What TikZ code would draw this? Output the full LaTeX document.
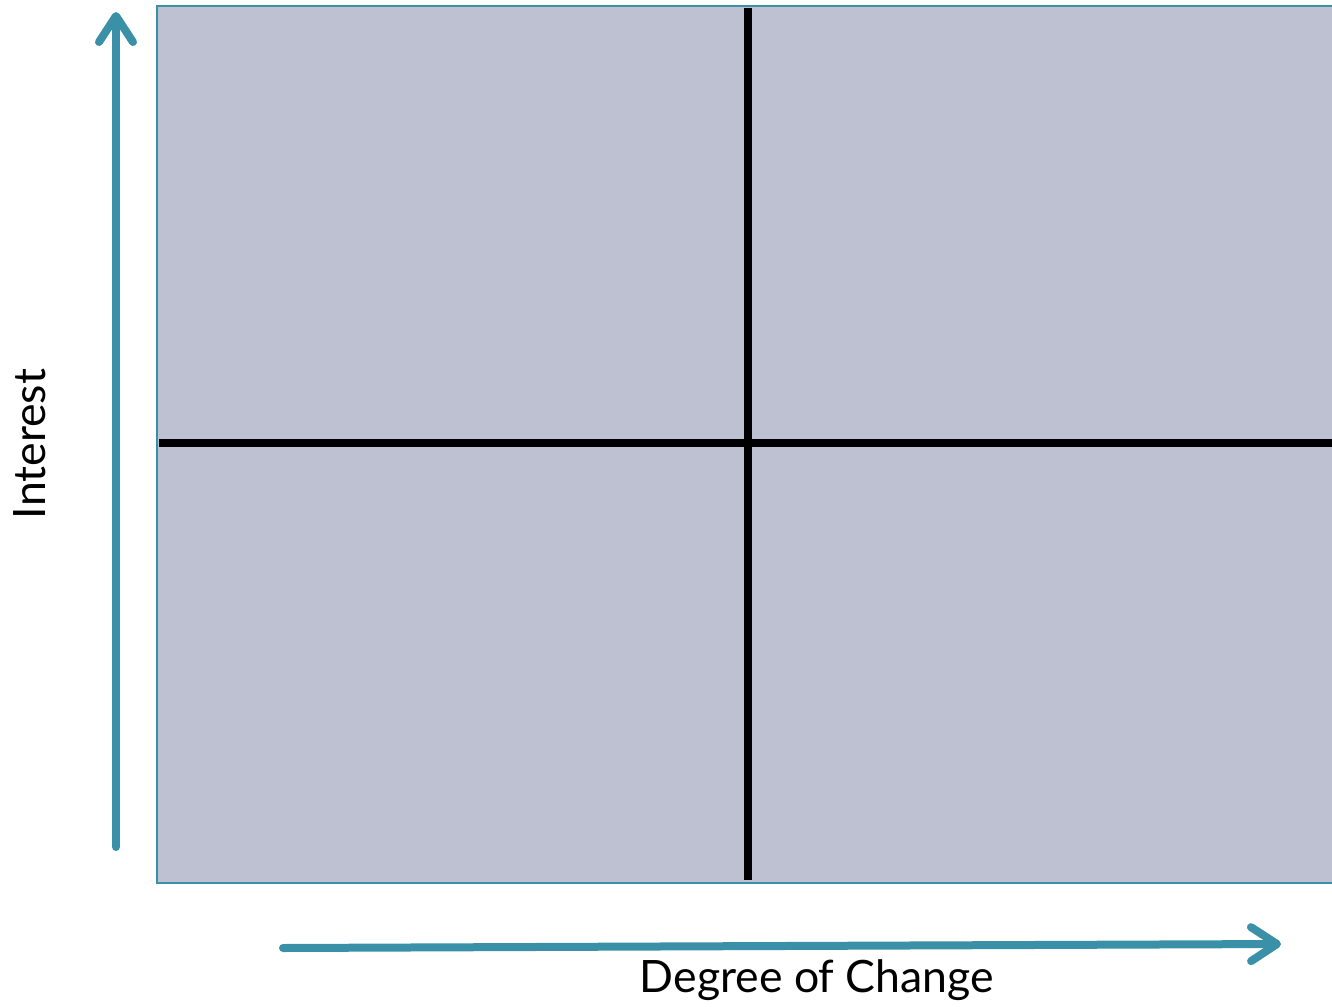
\documentclass[tikz,border=0pt]{standalone}
\usepackage{fontspec}
\setmainfont{Lato}
\usetikzlibrary{arrows.meta}
\definecolor{teal1}{HTML}{3A90A6}
\definecolor{quad}{HTML}{BEC1D2}
\tikzset{
  axisarrow/.style={draw=teal1, line width=4pt, line cap=round,
    -{Straight Barb[length=13pt,width=17pt,line cap=round,line join=round]}},
  divider/.style={draw=black, line width=3.8pt},
  axislabel/.style={font=\fontsize{22.3}{26}\selectfont, text=black, inner sep=0pt}
}
\begin{document}
\begin{tikzpicture}[x=0.5pt,y=-0.5pt]
\useasboundingbox (0,0) rectangle (1332,1006);
\begin{scope}
\clip (0,0) rectangle (1332,1006);
\fill[quad, draw=teal1, line width=1.4pt] (157,6) rectangle (1345,883);
\end{scope}
\coordinate (vt) at (748,8);
\coordinate (vb) at (748,880);
\coordinate (hl) at (159,443);
\coordinate (hr) at (1332,443);
\draw[divider] (vt) -- (vb);
\draw[divider] (hl) -- (hr);
\coordinate (ya) at (116,847);
\coordinate (yb) at (116,12);
\coordinate (xa) at (283,948);
\coordinate (xb) at (1281,944);
\draw[axisarrow] (ya) -- (yb);
\draw[axisarrow] (xa) -- (xb);
\node[axislabel, rotate=90] (ylab) at (30,444) {Interest};
\node[axislabel] (xlab) at (817,980) {Degree of Change};
\end{tikzpicture}
\end{document}
